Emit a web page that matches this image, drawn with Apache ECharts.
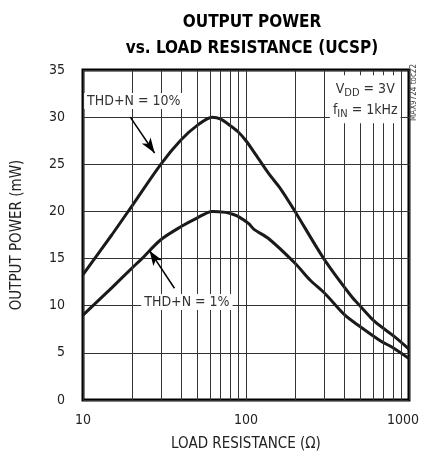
<!DOCTYPE html>
<html>
<head>
<meta charset="utf-8">
<script src="https://cdn.jsdelivr.net/npm/echarts@6/dist/echarts.min.js"></script>
<style>
  html, body { margin: 0; padding: 0; background: #fff; }
  #chart { width: 422px; height: 459px; }
</style>
</head>
<body>
<div id="chart"></div>
<script>
// 数据
var resistance10 = [10, 15, 20, 30, 40, 50, 62, 70, 80, 90, 100, 112, 138, 163, 200, 300, 443, 500, 618, 818, 1000];
var power10 = [13.3, 17.5, 20.6, 25, 27.6, 29.1, 30, 29.8, 29.1, 28.4, 27.5, 26.3, 24.0, 22.4, 20.0, 15.0, 11.0, 10.0, 8.3, 6.7, 5.4];
var resistance1 = [10, 15, 20, 23, 30, 40, 50, 62, 75, 83, 91, 104, 112, 138, 200, 248, 305, 405, 500, 678, 780, 1000];
var power1 = [9.0, 11.9, 14.0, 15.0, 17.0, 18.4, 19.3, 20.0, 19.9, 19.7, 19.4, 18.7, 18.1, 17.1, 14.5, 12.7, 11.3, 9.0, 7.8, 6.2, 5.65, 4.4];
var minorGrid = [20, 30, 40, 50, 60, 70, 80, 90, 200, 300, 400, 500, 600, 700, 800, 900];

var narrow = '"Liberation Sans Narrow", "DejaVu Sans Condensed", "Roboto", sans-serif';

function zip(xs, ys) {
  return xs.map(function (x, i) { return [x, ys[i]]; });
}

var chart = echarts.init(document.getElementById('chart'));
var option = {
  animation: false,
  backgroundColor: '#fff',
  title: {
    text: 'OUTPUT POWER\nvs. LOAD RESISTANCE (UCSP)',
    left: 247,
    textAlign: 'center',
    top: 5,
    textStyle: {
      fontFamily: narrow,
      fontWeight: 'bold',
      fontSize: 17,
      lineHeight: 26,
      color: '#000'
    }
  },
  grid: {
    left: 83,
    right: 11,
    top: 70,
    bottom: 59,
    show: true,
    borderColor: '#000',
    borderWidth: 3
  },
  xAxis: {
    type: 'log',
    logBase: 10,
    min: 10,
    max: 1000,
    name: 'LOAD RESISTANCE (Ω)',
    nameLocation: 'middle',
    nameGap: 37,
    nameTextStyle: { fontFamily: narrow, fontSize: 15, color: '#222' },
    axisLine: { show: false },
    axisTick: { show: false },
    axisLabel: {
      margin: 13,
      fontFamily: narrow,
      fontSize: 14,
      color: '#222',
      formatter: function (v) {
        return v === 1000 ? '{last|1000}' : String(v);
      },
      rich: {
        last: { fontFamily: narrow, fontSize: 14, color: '#222', padding: [0, 12, 0, 0] }
      }
    },
    splitLine: { show: true, lineStyle: { color: '#333', width: 1 } }
  },
  yAxis: {
    type: 'value',
    min: 0,
    max: 35,
    interval: 5,
    name: 'OUTPUT POWER (mW)',
    nameLocation: 'middle',
    nameGap: 58,
    nameTextStyle: { fontFamily: narrow, fontSize: 15, color: '#222' },
    axisLine: { show: false },
    axisTick: { show: false },
    axisLabel: { margin: 18, fontFamily: narrow, fontSize: 14, color: '#222' },
    splitLine: { show: true, lineStyle: { color: '#333', width: 1 } }
  },
  series: [
    {
      // 对数次网格线
      type: 'line',
      data: [],
      z: 1,
      silent: true,
      markLine: {
        silent: true,
        symbol: ['none', 'none'],
        label: { show: false },
        lineStyle: { color: '#333', width: 1, type: 'solid' },
        data: minorGrid.map(function (v) { return { xAxis: v }; })
      }
    },
    {
      name: 'THD+N = 10%',
      type: 'line',
      data: zip(resistance10, power10),
      showSymbol: false,
      smooth: 0.3,
      z: 3,
      lineStyle: { color: '#1a1a1a', width: 3 }
    },
    {
      name: 'THD+N = 1%',
      type: 'line',
      data: zip(resistance1, power1),
      showSymbol: false,
      smooth: 0.3,
      z: 3,
      lineStyle: { color: '#1a1a1a', width: 3 }
    },
    {
      // 标注
      type: 'line',
      data: [],
      z: 5,
      silent: true,
      markLine: {
        silent: true,
        symbol: ['none', 'arrow'],
        symbolSize: [8, 15],
        label: { show: false },
        lineStyle: { color: '#000', width: 1.5, type: 'solid' },
        data: [
          [{ coord: [19.5, 30.0] }, { coord: [27.5, 26.2] }],
          [{ coord: [36.4, 11.85] }, { coord: [25.6, 15.84] }]
        ]
      },
      markPoint: {
        silent: true,
        symbol: 'rect',
        symbolSize: 1,
        itemStyle: { color: 'rgba(0,0,0,0)' },
        label: {
          show: true,
          position: 'inside',
          fontFamily: narrow,
          fontSize: 14,
          color: '#333',
          backgroundColor: '#fff',
          padding: [1, 3]
        },
        data: [
          { coord: [20.5, 31.7], label: { formatter: 'THD+N = 10%' } },
          { coord: [43.4, 10.4], label: { formatter: 'THD+N = 1%' } },
          {
            coord: [539, 31.9],
            label: {
              formatter: '{a|V}{s|DD}{a| = 3V}\n{a|f}{s|IN}{a| = 1kHz}',
              padding: [4, 3, 2, 3],
              rich: {
                a: { fontFamily: narrow, fontSize: 14, color: '#333', lineHeight: 21 },
                s: { fontFamily: narrow, fontSize: 11, color: '#333', lineHeight: 21, padding: [6, 0, 0, 0] }
              }
            }
          }
        ]
      }
    }
  ],
  graphic: [
    {
      type: 'text',
      left: 410,
      top: 64,
      rotation: Math.PI / 2,
      style: {
        text: 'MAX9724 toc22',
        fontFamily: narrow,
        fontSize: 8,
        fill: '#444'
      }
    }
  ]
};
chart.setOption(option);
</script>
</body>
</html>
